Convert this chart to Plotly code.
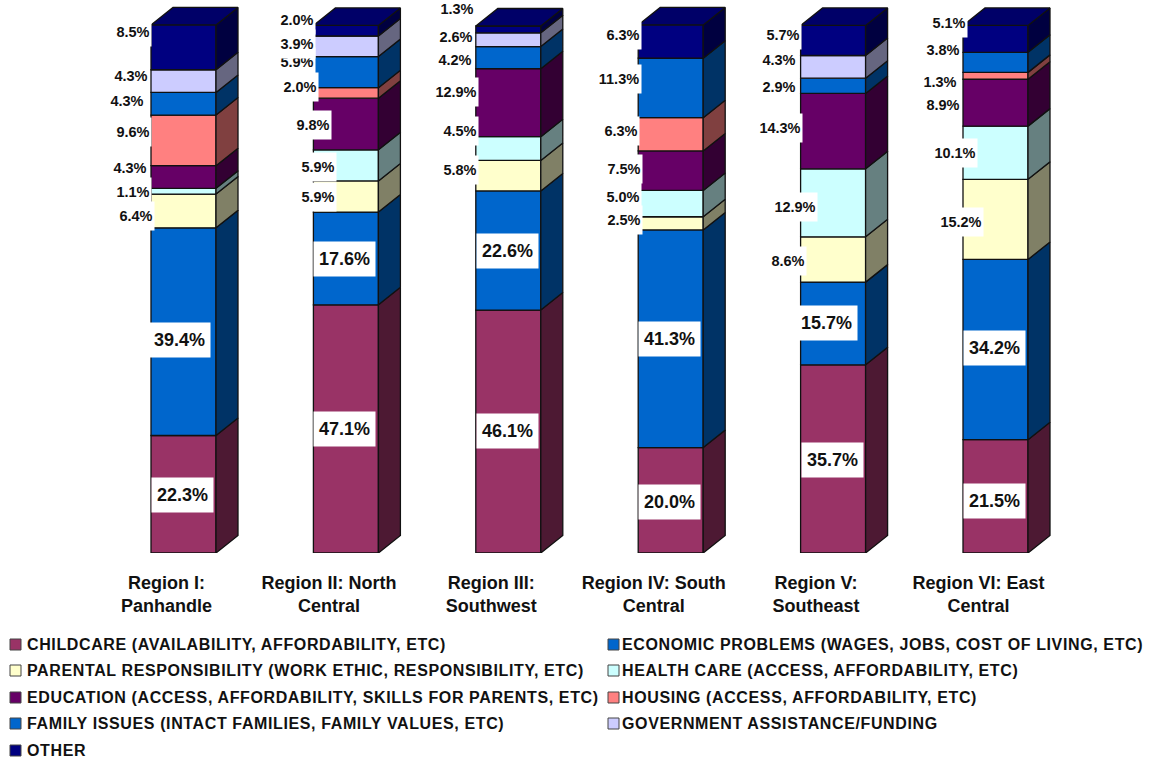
import plotly.graph_objects as go

REGIONS = ["Region I:<br>Panhandle", "Region II: North<br>Central", "Region III:<br>Southwest",
           "Region IV: South<br>Central", "Region V:<br>Southeast", "Region VI: East<br>Central"]
SERIES = ["CHILDCARE (AVAILABILITY, AFFORDABILITY, ETC)",
          "ECONOMIC PROBLEMS (WAGES, JOBS, COST OF LIVING, ETC)",
          "PARENTAL RESPONSIBILITY (WORK ETHIC, RESPONSIBILITY, ETC)",
          "HEALTH CARE (ACCESS, AFFORDABILITY, ETC)",
          "EDUCATION (ACCESS, AFFORDABILITY, SKILLS FOR PARENTS, ETC)",
          "HOUSING (ACCESS, AFFORDABILITY, ETC)",
          "FAMILY ISSUES (INTACT FAMILIES, FAMILY VALUES, ETC)",
          "GOVERNMENT ASSISTANCE/FUNDING",
          "OTHER"]
CHILDCARE = [22.3, 47.1, 46.1, 20.0, 35.7, 21.5]
ECONOMIC = [39.4, 17.6, 22.6, 41.3, 15.7, 34.2]
PARENTAL = [6.4, 5.9, 5.8, 2.5, 8.6, 15.2]
HEALTH = [1.1, 5.9, 4.5, 5.0, 12.9, 10.1]
EDUCATION = [4.3, 9.8, 12.9, 7.5, 14.3, 8.9]
HOUSING = [9.6, 2.0, 0, 6.3, 0, 1.3]
FAMILY = [4.3, 5.9, 4.2, 11.3, 2.9, 3.8]
GOVERNMENT = [4.3, 3.9, 2.6, 0, 4.3, 0]
OTHER = [8.5, 2.0, 1.3, 6.3, 5.7, 5.1]
VALUES = [CHILDCARE, ECONOMIC, PARENTAL, HEALTH, EDUCATION, HOUSING, FAMILY, GOVERNMENT, OTHER]

# Styling and layout (separate from the data)
FRONT = ["#993366", "#0066CC", "#FFFFCC", "#CCFFFF", "#660066", "#FF8080", "#0066CC", "#CCCCFF", "#000080"]
SIDE = ["#4D1933", "#003366", "#808066", "#668080", "#330033", "#804040", "#003366", "#666680", "#000040"]
TOP = "#000068"
W, H = 1151, 761
FIRST_CX, STEP, BAR_W = 183.5, 162.4, 65
Y0, PX_PER_PCT = 553, 5.27
DEPTH_X, DEPTH_Y = 22, 17.5
dx = DEPTH_X / STEP
dy = DEPTH_Y / PX_PER_PCT
half = BAR_W / STEP / 2
OUTLINE = "#111111"
FONT = "Liberation Sans"

# label centres on the page, one row per series, one column per region
LABEL_CX = [
    [182, 344, 507, 669, 832, 994],
    [179, 344, 507, 669, 826, 994],
    [136, 318, 460, 624, 788, 961],
    [133, 318, 460, 623, 795, 955],
    [130, 313, 456, 624, 780, 943],
    [133, 300, 0, 621, 0, 940],
    [127, 297, 455, 619, 779, 943],
    [131, 297, 456, 0, 779, 0],
    [133, 297, 457, 623, 783, 949],
]
LABEL_CY = [
    [495, 429, 431, 502, 460, 501],
    [340, 259, 251, 339, 323, 348],
    [216, 197, 170, 220, 261, 222],
    [192, 167, 131, 197, 207, 153],
    [168, 125, 92, 169, 128, 105],
    [132, 87, 0, 131, 0, 82],
    [101, 62, 60, 79, 87, 50],
    [76, 44, 37, 0, 60, 0],
    [32, 20, 9, 35, 35, 23],
]
BIG = 15.5  # labels at or above this value use the large type
LEG_ROWS = [644, 670, 697, 723, 750]
LEG_COLS = [(10, 26), (608, 621)]

fig = go.Figure()
xs = list(range(len(REGIONS)))

for s, (name, vals) in enumerate(zip(SERIES, VALUES)):
    bases = [sum(VALUES[k][i] for k in range(s)) for i in xs]
    fig.add_trace(go.Bar(x=xs, y=vals, base=bases, width=BAR_W / STEP, name=name, showlegend=False,
                         marker=dict(color=FRONT[s], line=dict(color=OUTLINE, width=1.3)), hoverinfo="skip"))

for s, vals in enumerate(VALUES):
    px_, py_ = [], []
    for i in xs:
        if vals[i] <= 0:
            continue
        b = sum(VALUES[k][i] for k in range(s))
        t = b + vals[i]
        r = i + half
        px_ += [r, r + dx, r + dx, r, r, None]
        py_ += [b, b + dy, t + dy, t, b, None]
    fig.add_trace(go.Scatter(x=px_, y=py_, mode="lines", fill="toself", fillcolor=SIDE[s], showlegend=False,
                             line=dict(color=OUTLINE, width=1.3), hoverinfo="skip"))

tx, ty = [], []
for i in xs:
    t = sum(v[i] for v in VALUES)
    l, r = i - half, i + half
    tx += [l, l + dx, r + dx, r, l, None]
    ty += [t, t + dy, t + dy, t, t, None]
fig.add_trace(go.Scatter(x=tx, y=ty, mode="lines", fill="toself", fillcolor=TOP, showlegend=False,
                         line=dict(color=OUTLINE, width=1.3), hoverinfo="skip"))

annotations = []
for s, vals in enumerate(VALUES):
    for i in xs:
        if vals[i] <= 0:
            continue
        big = vals[i] >= BIG
        text = f"{vals[i]:.1f}%"
        annotations.append(dict(
            text=text, xref="paper", yref="paper",
            x=LABEL_CX[s][i] / W, y=1 - LABEL_CY[s][i] / H,
            xanchor="center", yanchor="middle", showarrow=False,
            bgcolor="white", borderpad=0,
            width=61 if big else (44 if len(text) > 4 else 36),
            height=34 if big else 28,
            font=dict(family=FONT, size=18 if big else 14.5, color="#111111", weight="bold")))

shapes = []
for n, name in enumerate(SERIES):
    row, col = n // 2, n % 2
    cy = LEG_ROWS[row] + 0.5
    sx, tx0 = LEG_COLS[col]
    shapes.append(dict(type="rect", xref="paper", yref="paper", x0=sx / W, x1=(sx + 11) / W,
                       y0=1 - (cy + 5.5) / H, y1=1 - (cy - 5.5) / H, fillcolor=FRONT[n],
                       line=dict(color="#444444", width=1)))
    annotations.append(dict(text=f'<span style="letter-spacing:0.62px">{name}</span>',
                            xref="paper", yref="paper", x=tx0 / W, y=1 - LEG_ROWS[row] / H,
                            xanchor="left", yanchor="middle", showarrow=False, borderpad=0,
                            font=dict(family=FONT, size=16, color="#111111", weight="bold")))

TICK_OFFSET = 17 / STEP
fig.update_layout(
    width=W, height=H, margin=dict(l=0, r=0, t=0, b=0), barmode="overlay",
    paper_bgcolor="white", plot_bgcolor="white", showlegend=False,
    annotations=annotations, shapes=shapes,
    xaxis=dict(range=[-FIRST_CX / STEP, (W - FIRST_CX) / STEP], domain=[0, 1], showgrid=False, zeroline=False,
               showline=False, tickmode="array", tickvals=[i - TICK_OFFSET for i in xs],
               ticktext=REGIONS,
               ticks="outside", ticklen=13, tickcolor="rgba(0,0,0,0)",
               tickfont=dict(family=FONT, size=18, color="#111111", weight="bold")),
    yaxis=dict(range=[0, Y0 / PX_PER_PCT], domain=[(H - Y0) / H, 1], showgrid=False, zeroline=False,
               showline=False, showticklabels=False, ticks=""),
)

fig.write_html("out.html", config={"displayModeBar": False}, post_script="document.body.style.margin='0';")
